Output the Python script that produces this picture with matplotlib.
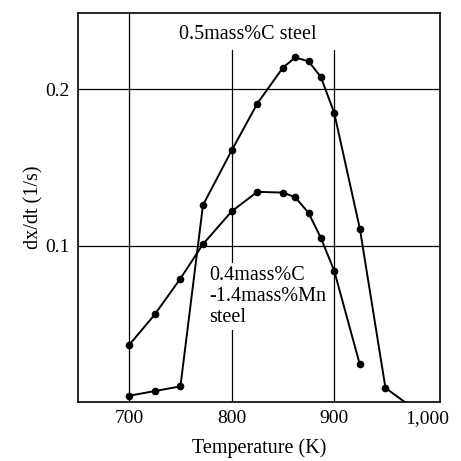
import matplotlib.pyplot as plt
import matplotlib.transforms as mtransforms

# 0.5mass%C steel
temp_c = [700, 725, 750, 772, 800, 825, 850, 862, 875, 887, 900, 925, 950, 975]
rate_c = [0.004, 0.007, 0.010, 0.126, 0.161, 0.191, 0.214, 0.2205, 0.218, 0.208, 0.185, 0.111, 0.009, -0.003]

# 0.4mass%C-1.4mass%Mn steel
temp_mn = [700, 725, 750, 772, 800, 825, 850, 862, 875, 887, 900, 925]
rate_mn = [0.0365, 0.056, 0.079, 0.101, 0.122, 0.1345, 0.134, 0.131, 0.121, 0.105, 0.084, 0.024]

x_ticks = [700, 800, 900, 1000]
x_labels = ["700", "800", "900", "1,000"]
y_ticks = [0.1, 0.2]
y_labels = ["0.1", "0.2"]

plt.rcParams['font.family'] = ['Liberation Serif', 'DejaVu Serif']

fig = plt.figure(figsize=(4.61, 4.61), dpi=100)
ax = fig.add_axes([0.169, 0.128, 0.785, 0.844])

# grid lines (the 800/900 ones stop below the title)
ax.axvline(700, color="black", lw=0.9, zorder=1)
ax.axvline(800, color="black", lw=0.9, ymax=0.905, zorder=1)
ax.axvline(900, color="black", lw=0.9, ymax=0.905, zorder=1)
for y in y_ticks:
    ax.axhline(y, color="black", lw=0.9, zorder=1)

ax.plot(temp_c, rate_c, color="black", lw=1.4, marker="o", ms=4.5,
        markevery=list(range(len(temp_c) - 1)), zorder=3)
ax.plot(temp_mn, rate_mn, color="black", lw=1.4, marker="o", ms=4.5, zorder=3)

ax.text(816, 0.2355, "0.5mass%C steel", fontsize=14.5, ha="center", va="center")
ax.text(778, 0.087, "0.4mass%C\n-1.4mass%Mn\nsteel", fontsize=14.5, ha="left", va="top",
        linespacing=1.15, bbox=dict(facecolor="white", edgecolor="none", pad=2), zorder=2)

ax.set_xlim(650, 1003)
ax.set_ylim(0, 0.249)
ax.set_xticks(x_ticks)
ax.set_xticklabels(x_labels)
ax.set_yticks(y_ticks)
ax.set_yticklabels(y_labels)
ax.tick_params(length=0, labelsize=14, pad=6)

# the last x label sits a little to the left in the original
last = ax.get_xticklabels()[-1]
last.set_transform(last.get_transform() + mtransforms.ScaledTranslation(-0.09, 0, fig.dpi_scale_trans))

for s in ax.spines.values():
    s.set_linewidth(1.2)

ax.set_xlabel("Temperature (K)", fontsize=14.5, labelpad=8)
ax.set_ylabel("dx/dt (1/s)", fontsize=14.5, labelpad=1)

fig.savefig("out.png", dpi=100)
